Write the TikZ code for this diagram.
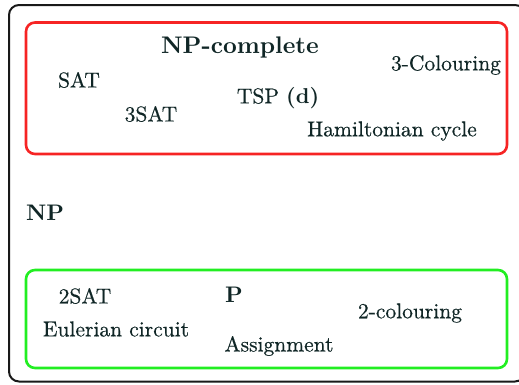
\documentclass[tikz,border=0pt]{standalone}
\usepackage{fontspec}
\newfontfamily\regf{lmroman10-regular.otf}[FakeBold=0.5]
\newfontfamily\bldf{lmroman10-bold.otf}[FakeStretch=1.0]
\definecolor{txt}{HTML}{102626}
\definecolor{boxred}{HTML}{F62424}
\definecolor{boxgreen}{HTML}{22EE22}
\begin{document}
\begin{tikzpicture}[x=1pt,y=-1pt,
  lbl/.style={text=txt,inner sep=0pt,font=\regf\fontsize{21.5}{25}\selectfont},
  blbl/.style={text=txt,inner sep=0pt,font=\bldf\fontsize{22.5}{26}\selectfont},
  setbox/.style={rounded corners=9pt,line width=2.6pt}]
\useasboundingbox (0,0) rectangle (519,384);
\begin{scope}
\clip (0,0) rectangle (519,384);
\draw[line width=2pt,rounded corners=10pt,black!90] (9,5) rectangle (525,381.5);
\end{scope}
\draw[setbox,boxred] (26,22.5) rectangle (507,154);
\draw[setbox,boxgreen] (26,270) rectangle (507,368);
% NP-complete
\node[blbl,font=\bldf\fontsize{24}{28}\selectfont] (npc) at (240,47) {NP-complete};
\node[lbl] (sat) at (79,80) {SAT};
\node[lbl] (tsat) at (151,114) {3SAT};
\node[lbl] (tsp) at (278,98) {TSP {\bldf(d)}};
\node[lbl] (col3) at (446,65) {3-Colouring};
\node[lbl] (ham) at (392,131) {Hamiltonian cycle};
% NP
\node[blbl] (np) at (45,213) {NP};
% P
\node[blbl] (p) at (234,295) {P};
\node[lbl] (ssat) at (85,296) {2SAT};
\node[lbl] (eul) at (116,329) {Eulerian circuit};
\node[lbl] (asg) at (279,346) {Assignment};
\node[lbl] (col2) at (410,313) {2-colouring};
\end{tikzpicture}
\end{document}
